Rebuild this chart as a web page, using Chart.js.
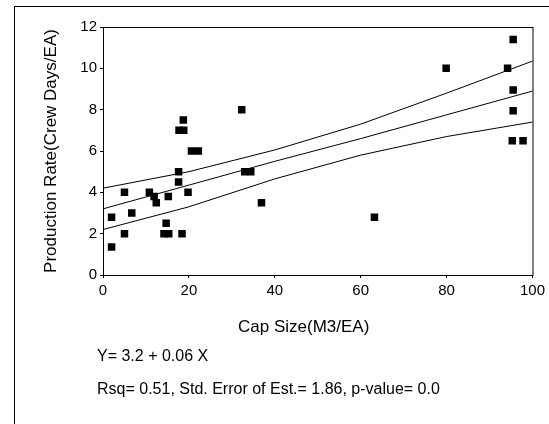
<!DOCTYPE html>
<html>
<head>
<meta charset="utf-8">
<script src="https://cdn.jsdelivr.net/npm/chart.js@4"></script>
<style>
  body { margin: 0; background: #fff; }
  #wrap { position: relative; width: 549px; height: 424px; overflow: hidden; font-family: Arial, "Liberation Sans", sans-serif; color: #000; }
  #frame { position: absolute; left: 14px; top: 6px; width: 600px; height: 500px; border-left: 1px solid #000; border-top: 1px solid #000; }
  .txt { position: absolute; white-space: nowrap; line-height: 20px; }
</style>
</head>
<body>
<div id="wrap">
  <div id="frame"></div>
  <canvas id="myChart" width="549" height="424"></canvas>
  <div class="txt" id="xTitle" style="left:238px; top:317px; font-size:17px;">Cap Size(M3/EA)</div>
  <div class="txt" id="eq" style="left:97px; top:346px; font-size:16px;">Y= 3.2 + 0.06 X</div>
  <div class="txt" id="stats" style="left:97px; top:379px; font-size:16px;">Rsq= 0.51, Std. Error of Est.= 1.86, p-value= 0.0</div>
</div>
<script>
const capSize = [2, 2, 5, 5, 6.7, 10.8, 11.9, 12.4, 14.2, 15.3, 14.7, 15.2, 17.6, 17.6, 17.7, 18.8, 18.7, 18.4, 19.8, 20.6, 22.2, 32.3, 33, 34.4, 36.9, 63.2, 79.9, 94.2, 95.5, 95.5, 95.5, 95.3, 97.8];
const prodRate = [2.8, 1.35, 4, 2, 3, 4, 3.8, 3.5, 2, 2, 2.5, 3.8, 5, 4.5, 7, 7, 7.5, 2, 4, 6, 6, 8, 5, 5, 3.5, 2.8, 10, 10, 11.4, 8.95, 7.95, 6.5, 6.5];

// fitted line and 95% band
const bandX = [0, 20, 40, 60, 80, 100];
const fitY = [3.2, 4.35, 5.5, 6.6, 7.75, 8.9];
const upperY = [4.2, 5.0, 6.05, 7.3, 8.8, 10.35];
const lowerY = [2.2, 3.3, 4.65, 5.8, 6.7, 7.4];

const xTicks = [0, 20, 40, 60, 80, 100];
const yTicks = [0, 2, 4, 6, 8, 10, 12];

function toPoints(xs, ys) {
  return xs.map((x, i) => ({ x: x, y: ys[i] }));
}

function bandLine(ys) {
  return {
    data: toPoints(bandX, ys),
    showLine: true,
    borderColor: '#000',
    borderWidth: 1,
    pointRadius: 0,
    fill: false
  };
}

// box round the plot area
const plotBox = {
  id: 'plotBox',
  afterDraw(chart) {
    const a = chart.chartArea;
    const ctx = chart.ctx;
    ctx.save();
    ctx.strokeStyle = '#000';
    ctx.lineWidth = 1;
    ctx.strokeRect(a.left + 0.5, a.top + 0.5, a.right - a.left, a.bottom - a.top);
    ctx.restore();
  }
};

const ctx = document.getElementById('myChart');
let myChart = new Chart(ctx, {
  type: 'scatter',
  data: {
    datasets: [
      {
        data: toPoints(capSize, prodRate),
        pointStyle: 'rect',
        pointRadius: 5.3,
        backgroundColor: '#000',
        borderColor: '#000',
        borderWidth: 0
      },
      bandLine(fitY),
      bandLine(upperY),
      bandLine(lowerY)
    ]
  },
  options: {
    responsive: false,
    devicePixelRatio: 1,
    animation: false,
    layout: { padding: { top: 27, right: 15, left: 37, bottom: 0 } },
    plugins: { legend: { display: false }, tooltip: { enabled: false } },
    scales: {
      x: {
        type: 'linear',
        min: 0,
        max: 100,
        afterFit(scale) { scale.height = 149; },
        afterBuildTicks(scale) { scale.ticks = xTicks.map(v => ({ value: v })); },
        grid: { drawOnChartArea: false, drawTicks: true, tickLength: 3, color: '#000' },
        border: { display: true, color: '#000', width: 1 },
        ticks: { color: '#000', padding: 4, font: { family: 'Arial, "Liberation Sans"', size: 15 } }
      },
      y: {
        min: 0,
        max: 12,
        afterFit(scale) { scale.width = 66; },
        afterBuildTicks(scale) { scale.ticks = yTicks.map(v => ({ value: v })); },
        grid: { drawOnChartArea: false, drawTicks: true, tickLength: 3, color: '#000' },
        border: { display: true, color: '#000', width: 1 },
        ticks: { color: '#000', padding: 3, font: { family: 'Arial, "Liberation Sans"', size: 15 } },
        title: {
          display: true,
          text: 'Production Rate(Crew Days/EA)',
          color: '#000',
          font: { family: 'Arial, "Liberation Sans"', size: 17 }
        }
      }
    }
  },
  plugins: [plotBox]
});
</script>
</body>
</html>
